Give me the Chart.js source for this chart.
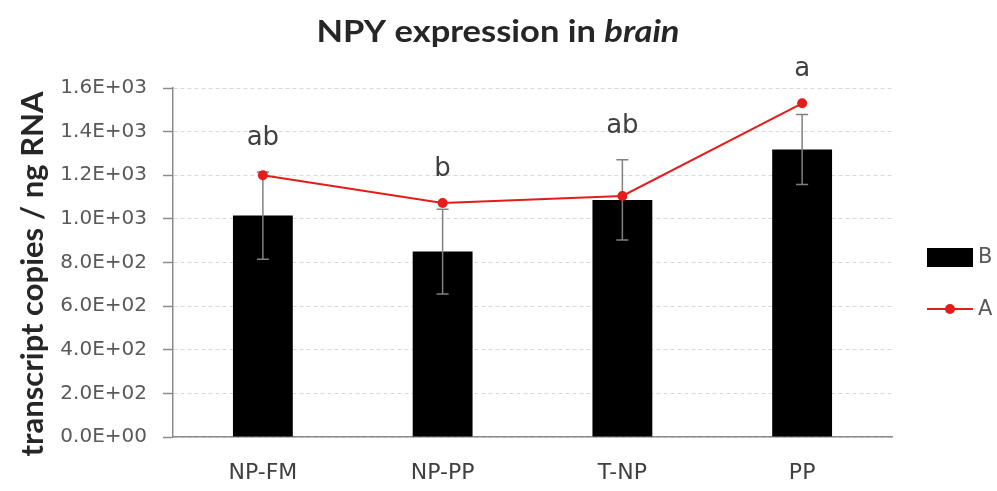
<!DOCTYPE html>
<html>
<head>
<meta charset="utf-8">
<script src="https://cdn.jsdelivr.net/npm/chart.js@4/dist/chart.umd.min.js"></script>
<style>
  html, body { margin: 0; padding: 0; background: #ffffff; }
  #wrap { width: 997px; height: 491px; position: relative; }
</style>
</head>
<body>
<div id="wrap"><canvas id="chart" width="997" height="491"></canvas></div>
<script>
// Groups along the category axis
const categories = ['NP-FM', 'NP-PP', 'T-NP', 'PP'];
// Series B (bars) with standard error
const seriesB = [1015, 850, 1087, 1318];
const errorB = [200, 194, 184, 160];
// Series A (line with markers)
const seriesA = [1200, 1073, 1105, 1530];
// Significance letters over each group
const letters = ['ab', 'b', 'ab', 'a'];
// Value axis ticks
const yTicks = [0, 200, 400, 600, 800, 1000, 1200, 1400, 1600];

const HEAD = 'Lato, "Open Sans", sans-serif';
const BODY = '"DejaVu Sans", sans-serif';
const TEXT = '#404040';
const AXIS = '#8c8c8c';
const RED = '#e31c1c';

// Chart title (tissue name in italics) and the rotated value-axis title
const titlePlugin = {
  id: 'titles',
  afterDraw(chart) {
    const ctx = chart.ctx;
    ctx.save();
    ctx.fillStyle = '#262626';
    ctx.textBaseline = 'alphabetic';
    ctx.textAlign = 'left';
    const a = 'NPY expression in ';
    const b = 'brain';
    const upright = 'bold 30px ' + HEAD;
    const slanted = 'italic bold 30px ' + HEAD;
    ctx.font = upright;
    const wa = ctx.measureText(a).width;
    ctx.font = slanted;
    const wb = ctx.measureText(b).width;
    const sx = 363 / (wa + wb);
    ctx.translate(498 - 363 / 2, 42);
    ctx.scale(sx, 1);
    ctx.font = upright;
    ctx.fillText(a, 0, 0);
    ctx.font = slanted;
    ctx.fillText(b, wa, 0);
    ctx.restore();

    ctx.save();
    ctx.fillStyle = '#262626';
    ctx.font = 'bold 31px ' + HEAD;
    ctx.textAlign = 'center';
    ctx.textBaseline = 'alphabetic';
    ctx.translate(43, 274);
    ctx.rotate(-Math.PI / 2);
    ctx.fillText('transcript copies / ng RNA', 0, 0);
    ctx.restore();
  }
};

// Error whiskers on the bars, drawn right after the bar dataset
const errorPlugin = {
  id: 'errorBars',
  afterDatasetDraw(chart, args) {
    if (args.index !== 0) return;
    const ctx = chart.ctx;
    const y = chart.scales.y;
    ctx.save();
    ctx.strokeStyle = '#808080';
    ctx.lineWidth = 1.5;
    args.meta.data.forEach((bar, i) => {
      const x = bar.x;
      const top = y.getPixelForValue(seriesB[i] + errorB[i]);
      const bot = y.getPixelForValue(seriesB[i] - errorB[i]);
      ctx.beginPath();
      ctx.moveTo(x, top); ctx.lineTo(x, bot);
      ctx.moveTo(x - 6, top); ctx.lineTo(x + 6, top);
      ctx.moveTo(x - 6, bot); ctx.lineTo(x + 6, bot);
      ctx.stroke();
    });
    ctx.restore();
  }
};

// Letters above each group, and the legend at the right
const annotatePlugin = {
  id: 'annotate',
  afterDraw(chart) {
    const ctx = chart.ctx;
    const y = chart.scales.y;
    const x = chart.scales.x;
    ctx.save();
    ctx.fillStyle = TEXT;
    ctx.font = '26px ' + BODY;
    ctx.textAlign = 'center';
    ctx.textBaseline = 'alphabetic';
    letters.forEach((t, i) => {
      const high = Math.max(seriesA[i], seriesB[i] + errorB[i]);
      ctx.fillText(t, x.getPixelForValue(i), y.getPixelForValue(high) - 27);
    });

    // legend
    const lx = 927, lw = 46;
    ctx.fillStyle = '#000000';
    ctx.fillRect(lx, 248, lw, 19);
    ctx.strokeStyle = RED;
    ctx.lineWidth = 2;
    ctx.beginPath();
    ctx.moveTo(lx, 309); ctx.lineTo(lx + lw, 309);
    ctx.stroke();
    ctx.fillStyle = RED;
    ctx.beginPath();
    ctx.arc(lx + lw / 2, 309, 5, 0, Math.PI * 2);
    ctx.fill();
    ctx.fillStyle = '#595959';
    ctx.font = '21px ' + BODY;
    ctx.textAlign = 'left';
    ctx.textBaseline = 'middle';
    ctx.fillText('B', lx + lw + 5, 258);
    ctx.fillText('A', lx + lw + 5, 310);
    ctx.restore();
  }
};

new Chart(document.getElementById('chart'), {
  type: 'bar',
  data: {
    labels: categories,
    datasets: [
      {
        label: 'B',
        data: seriesB,
        backgroundColor: '#000000',
        borderWidth: 0,
        barPercentage: 0.333,
        categoryPercentage: 1,
        order: 2
      },
      {
        type: 'line',
        label: 'A',
        data: seriesA,
        borderColor: RED,
        backgroundColor: RED,
        borderWidth: 2,
        pointRadius: 5,
        pointBorderWidth: 0,
        pointBackgroundColor: RED,
        tension: 0,
        order: 1
      }
    ]
  },
  options: {
    responsive: false,
    animation: false,
    devicePixelRatio: 1,
    layout: { padding: { top: 88, right: 105, left: 0, bottom: 0 } },
    plugins: {
      legend: { display: false },
      title: { display: false },
      tooltip: { enabled: false }
    },
    scales: {
      x: {
        grid: { display: false, drawTicks: false },
        border: { display: true, color: AXIS, width: 1.5 },
        ticks: {
          color: TEXT,
          font: { family: BODY, size: 22 },
          padding: 23
        },
        afterFit(scale) { scale.height = 54; }
      },
      y: {
        min: 0,
        max: 1600,
        afterBuildTicks(scale) { scale.ticks = yTicks.map(v => ({ value: v })); },
        grid: {
          color: '#d9d9d9',
          lineWidth: 1,
          drawTicks: true,
          tickLength: 10,
          tickColor: AXIS,
          tickBorderDash: [],
          tickWidth: 1.5
        },
        border: { display: true, color: AXIS, width: 1.5, dash: [4, 3] },
        ticks: {
          color: '#595959',
          font: { family: BODY, size: 20 },
          padding: 16,
          callback(v) {
            const e = v === 0 ? 0 : Math.floor(Math.log10(v));
            const m = v / Math.pow(10, e);
            return m.toFixed(1) + 'E+' + String(e).padStart(2, '0');
          }
        },
        title: { display: false },
        afterFit(scale) { scale.width = 173; }
      }
    }
  },
  plugins: [titlePlugin, errorPlugin, annotatePlugin]
});
</script>
</body>
</html>
